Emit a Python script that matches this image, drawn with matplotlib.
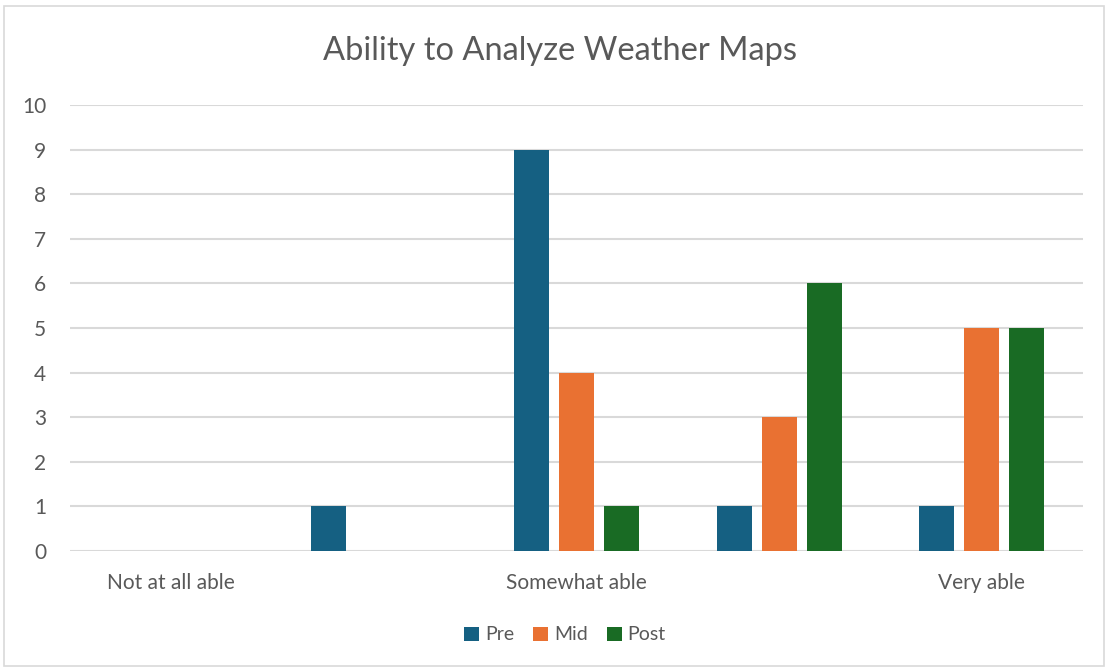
import numpy as np
import matplotlib.pyplot as plt
from matplotlib.patches import Rectangle

plt.rcParams['font.family'] = ['Lato', 'DejaVu Sans']

# Likert categories (only every other one is labelled on the axis)
categories = ["Not at all able", "", "Somewhat able", "", "Very able"]
pre = [0, 1, 9, 1, 1]
mid = [0, 0, 4, 3, 5]
post = [0, 0, 1, 6, 5]

series = [("Pre", pre, "#156082"), ("Mid", mid, "#E97132"), ("Post", post, "#196B24")]

fig = plt.figure(figsize=(11.05, 6.70), dpi=100)
ax = fig.add_axes([70 / 1105, 1 - 551 / 670, 1013 / 1105, 446 / 670])

x = np.arange(len(categories))
step = 0.222
width = 0.173
for i, (name, vals, color) in enumerate(series):
    ax.bar(x + (i - 1) * step, vals, width, color=color, label=name, zorder=3)

ax.set_xlim(-0.5, len(categories) - 0.5)
ax.set_ylim(0, 10)
ax.set_yticks(range(0, 11))
ax.set_xticks(x)
ax.set_xticklabels(categories)
ax.tick_params(axis='both', length=0, labelsize=15, colors='#595959')
ax.tick_params(axis='x', pad=16)
ax.tick_params(axis='y', pad=17)
ax.grid(axis='y', color='#D9D9D9', linewidth=1.5, zorder=0)
for s in ax.spines.values():
    s.set_visible(False)

fig.text(560 / 1105, 1 - 51 / 670, "Ability to Analyze Weather Maps", ha='center', va='center',
         fontsize=23.5, color='#595959')

fig.legend(loc='center', bbox_to_anchor=(565 / 1105, 1 - 635 / 670), ncol=3, frameon=False,
           fontsize=14, labelcolor='#595959', handlelength=0.75, handleheight=0.75,
           handletextpad=0.3, columnspacing=1.0)

# thin chart-area border
fig.patches.append(Rectangle((4 / 1105, 1 - 666 / 670), 1100 / 1105, 660 / 670,
                             transform=fig.transFigure, fill=False,
                             edgecolor='#D9D9D9', linewidth=1.2))

fig.savefig("out.png", dpi=100, facecolor='white')
plt.close(fig)
